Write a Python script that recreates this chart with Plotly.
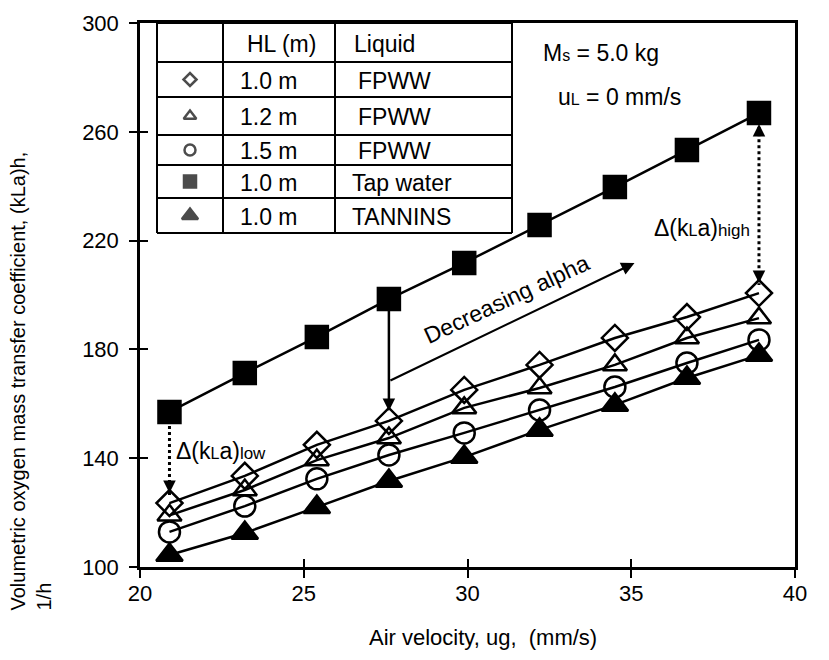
import plotly.graph_objects as go

# ---------------- data ----------------
air_velocity = [20.9, 23.2, 25.4, 27.6, 29.9, 32.2, 34.5, 36.7, 38.9]
kla_tap_water = [157.0, 171.3, 184.6, 198.5, 211.8, 225.7, 239.7, 253.3, 266.9]
kla_fpww_10 = [123.5, 133.5, 144.9, 153.7, 165.1, 174.3, 184.2, 191.9, 200.7]
kla_fpww_12 = [119.0, 128.3, 139.3, 147.4, 158.5, 165.8, 174.3, 184.2, 191.5]
kla_fpww_15 = [112.9, 122.4, 132.4, 141.2, 149.3, 157.7, 166.2, 175.0, 183.5]
kla_tannins = [104.4, 112.5, 122.0, 131.6, 140.4, 150.4, 159.6, 169.5, 177.9]

x_ticks = [20, 25, 30, 35, 40]
y_ticks = [100, 140, 180, 220, 260, 300]

legend_hl = ["1.0 m", "1.2 m", "1.5 m", "1.0 m", "1.0 m"]
legend_liquid = ["FPWW", "FPWW", "FPWW", "Tap water", "TANNINS"]

# "Decreasing alpha" arrow (tail, head) in data units
alpha_tail = (27.6, 168.3)
alpha_head = (35.1, 211.8)
alpha_text_pos = (31.2, 198.5)

# ---------------- layout constants (pixels) ----------------
W, H = 829, 660
L, R, T, B = 140, 795, 23, 567
FONT = "Liberation Sans, Arial, sans-serif"
FS = 23       # horizontal annotation text
FS_TICK = 22
FS_YT = 20


def px(xp):
    return (xp - L) / (R - L)


def py(yp):
    return (B - yp) / (B - T)


fig = go.Figure()

series = [
    (kla_fpww_10, "diamond-open", 20, "FPWW 1.0"),
    (kla_fpww_12, "triangle-up-open", 21, "FPWW 1.2"),
    (kla_fpww_15, "circle-open", 21, "FPWW 1.5"),
    (kla_tap_water, "square", 22, "Tap water"),
    (kla_tannins, "triangle-up", 23, "Tannins"),
]
for yvals, sym, size, name in series:
    fig.add_trace(go.Scatter(
        x=air_velocity, y=yvals, mode="lines+markers", name=name,
        line=dict(color="black", width=2.5),
        marker=dict(symbol=sym, size=size, color="black",
                    line=dict(color="black", width=2.5)),
        showlegend=False, hoverinfo="skip",
    ))

# invisible trace for overlay axes (inside tick marks)
fig.add_trace(go.Scatter(x=[None], y=[None], xaxis="x2", yaxis="y2",
                         showlegend=False, hoverinfo="skip"))

# legend key markers in a small auxiliary axis
row_edges = [62, 97, 135, 165, 198, 233]
key_y = [(row_edges[i] + row_edges[i + 1]) / 2 for i in range(5)]
key_syms = ["diamond-open", "triangle-up-open", "circle-open", "square", "triangle-up"]
key_sizes = [10, 11, 11, 12, 14]
fig.add_trace(go.Scatter(
    x=[0.5] * 5, y=key_y, mode="markers", xaxis="x3", yaxis="y3",
    marker=dict(symbol=key_syms, size=key_sizes, color="black",
                line=dict(color="black", width=2.5)),
    showlegend=False, hoverinfo="skip",
))

shapes = []
annotations = []


def txt(xp, yp, text, size=FS, xanchor="left", **kw):
    d = dict(xref="paper", yref="paper", x=px(xp), y=py(yp), text=text,
             showarrow=False, xanchor=xanchor, yanchor="middle",
             font=dict(size=size, family=FONT, color="black"))
    d.update(kw)
    annotations.append(d)


# table
tab_left, tab_c1, tab_c2, tab_right = 157, 223, 335, 512
tab_top = T
for yy in [tab_top] + row_edges:
    shapes.append(dict(type="line", xref="paper", yref="paper",
                       x0=px(tab_left), x1=px(tab_right), y0=py(yy), y1=py(yy),
                       line=dict(color="black", width=2)))
for xx in [tab_left, tab_c1, tab_c2, tab_right]:
    shapes.append(dict(type="line", xref="paper", yref="paper",
                       x0=px(xx), x1=px(xx), y0=py(tab_top), y1=py(row_edges[-1]),
                       line=dict(color="black", width=2)))

header_y = (tab_top + row_edges[0]) / 2 + 1
txt(245, header_y, "HL (m)")
txt(352, header_y, "Liquid")
for i in range(5):
    txt(238, key_y[i] + 1, legend_hl[i])
    txt(356 if legend_liquid[i] == "FPWW" else 350, key_y[i] + 1, legend_liquid[i])

# condition text
txt(541, 53, "M<span style='font-size:16px'>s</span> = 5.0 kg")
txt(556, 97, "u<span style='font-size:16px'>L</span> = 0 mm/s")

# delta low (dashed) at first column
x_lo = air_velocity[0]
shapes.append(dict(type="line", xref="x", yref="y", x0=x_lo, x1=x_lo,
                   y0=kla_tap_water[0] - 3, y1=kla_fpww_10[0] + 3,
                   line=dict(color="black", width=3, dash="dot")))
annotations.append(dict(x=x_lo, y=kla_fpww_10[0], ax=0, ay=-22, standoff=10,
                        showarrow=True, arrowhead=2, arrowsize=1, arrowwidth=2.5,
                        arrowcolor="black", text=""))
txt(174, 451, "Δ(k<span style='font-size:16px'>L</span>a)<span style='font-size:17px'>low</span>")

# delta high (dashed) at last column
x_hi = air_velocity[-1]
shapes.append(dict(type="line", xref="x", yref="y", x0=x_hi, x1=x_hi,
                   y0=kla_tap_water[-1] - 3, y1=kla_fpww_10[-1] + 3,
                   line=dict(color="black", width=3, dash="dot")))
annotations.append(dict(x=x_hi, y=kla_fpww_10[-1], ax=0, ay=-22, standoff=10,
                        showarrow=True, arrowhead=2, arrowsize=1, arrowwidth=2.5,
                        arrowcolor="black", text=""))
annotations.append(dict(x=x_hi, y=kla_tap_water[-1], ax=0, ay=22, standoff=11,
                        showarrow=True, arrowhead=2, arrowsize=1, arrowwidth=2.5,
                        arrowcolor="black", text=""))
txt(652, 228, "Δ(k<span style='font-size:16px'>L</span>a)<span style='font-size:17px'>high</span>")

# solid vertical arrow at 4th column
x_mid = air_velocity[3]
annotations.append(dict(x=x_mid, y=kla_fpww_10[3], ax=x_mid, ay=kla_tap_water[3],
                        axref="x", ayref="y", standoff=10,
                        showarrow=True, arrowhead=2, arrowsize=1, arrowwidth=2.5,
                        arrowcolor="black", text=""))

# decreasing alpha arrow
annotations.append(dict(x=alpha_head[0], y=alpha_head[1], ax=alpha_tail[0], ay=alpha_tail[1],
                        axref="x", ayref="y", showarrow=True, arrowhead=2, arrowsize=1.2,
                        arrowwidth=2.2, arrowcolor="black", text=""))
annotations.append(dict(x=alpha_text_pos[0], y=alpha_text_pos[1], text="Decreasing alpha",
                        showarrow=False, textangle=-25,
                        font=dict(size=FS, family=FONT, color="black")))

# axis titles
annotations.append(dict(xref="paper", yref="paper", x=px(30), y=py(613),
                        xanchor="center", yanchor="bottom", textangle=-90, align="left",
                        text="Volumetric oxygen mass transfer coefficient, (kLa)h,<br>1/h",
                        showarrow=False, font=dict(size=FS_YT, family=FONT, color="black")))
txt(483, 637, "Air velocity, ug,  (mm/s)", size=22, xanchor="center")

axis_common = dict(showgrid=False, zeroline=False, linecolor="black", linewidth=2.5,
                   ticks="outside", ticklen=8, tickwidth=2, tickcolor="black",
                   tickfont=dict(size=FS_TICK, family=FONT, color="black"))

fig.update_layout(
    width=W, height=H,
    margin=dict(l=L, r=W - R, t=T, b=H - B),
    paper_bgcolor="white", plot_bgcolor="white",
    font=dict(family=FONT, size=FS, color="black"),
    xaxis=dict(range=[20, 40], tickvals=x_ticks, showline=True, mirror=True,
               ticklabelstandoff=-3, **axis_common),
    yaxis=dict(range=[100, 300], tickvals=y_ticks, showline=True, mirror=True,
               ticklabelstandoff=6, **axis_common),
    xaxis2=dict(range=[20, 40], tickvals=x_ticks, overlaying="x", anchor="y2", side="bottom",
                showticklabels=False, showline=False, showgrid=False, zeroline=False,
                ticks="inside", ticklen=8, tickwidth=2, tickcolor="black"),
    yaxis2=dict(range=[100, 300], tickvals=y_ticks, overlaying="y", anchor="x2", side="left",
                showticklabels=False, showline=False, showgrid=False, zeroline=False,
                ticks="inside", ticklen=8, tickwidth=2, tickcolor="black"),
    xaxis3=dict(domain=[px(tab_left), px(tab_c1)], range=[0, 1], visible=False,
                anchor="y3"),
    yaxis3=dict(domain=[py(row_edges[-1]), py(row_edges[0])],
                range=[row_edges[-1], row_edges[0]], visible=False, anchor="x3"),
    shapes=shapes,
    annotations=annotations,
)

fig.write_html("out.html")
